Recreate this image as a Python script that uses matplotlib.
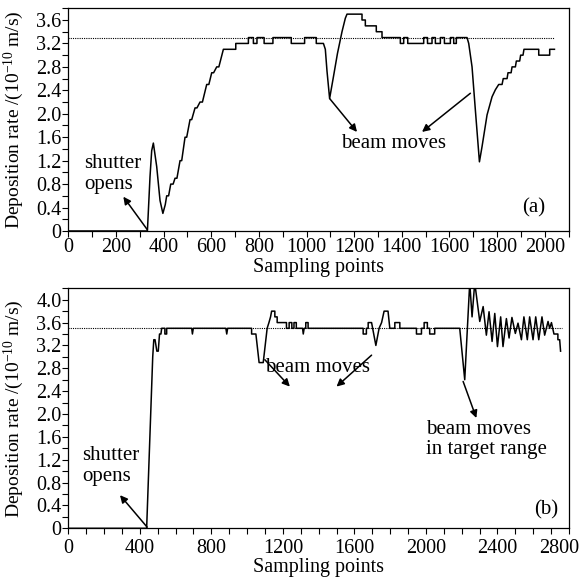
import numpy as np
import matplotlib.pyplot as plt
import matplotlib.transforms as mtransforms
from matplotlib.ticker import MultipleLocator, FuncFormatter

plt.rcParams['font.family'] = ['Liberation Serif', 'DejaVu Serif']
plt.rcParams['mathtext.fontset'] = 'custom'
plt.rcParams['mathtext.rm'] = 'Liberation Serif'
plt.rcParams['mathtext.it'] = 'Liberation Serif:italic'

# panel (a): deposition rate trace, vertices
top_x = [0, 332, 343, 350, 357, 371, 385, 397, 407, 413, 421, 430, 440, 448, 456,
         469, 476, 490, 497, 511, 518, 532, 540, 553, 563, 581, 590, 602, 610, 623,
         632, 651, 703, 703, 756, 756, 777, 777, 792, 792, 822, 822, 859, 859, 936,
         936, 992, 992, 1041, 1041, 1071, 1079, 1086, 1097, 1113, 1130, 1149, 1163,
         1170, 1233, 1233, 1247, 1247, 1293, 1293, 1317, 1317, 1394, 1394, 1408,
         1408, 1425, 1425, 1492, 1492, 1508, 1508, 1527, 1527, 1541, 1541, 1562,
         1562, 1579, 1579, 1604, 1604, 1618, 1618, 1629, 1629, 1674, 1681, 1695,
         1709, 1726, 1737, 1758, 1779, 1793, 1807, 1821, 1826, 1842, 1846, 1859,
         1863, 1877, 1881, 1895, 1899, 1909, 1913, 1975, 1975, 2021, 2021, 2041]
top_y = [0, 0, 0.93, 1.37, 1.50, 1.10, 0.52, 0.30, 0.45, 0.60, 0.60, 0.80, 0.80,
         0.90, 0.90, 1.20, 1.20, 1.60, 1.60, 1.90, 1.90, 2.10, 2.10, 2.20, 2.20,
         2.50, 2.50, 2.70, 2.70, 2.80, 2.80, 3.10, 3.10, 3.20, 3.20, 3.30, 3.30,
         3.20, 3.20, 3.30, 3.30, 3.20, 3.20, 3.30, 3.30, 3.20, 3.20, 3.30, 3.30,
         3.20, 3.20, 3.10, 2.73, 2.26, 2.63, 3.03, 3.40, 3.63, 3.70, 3.70, 3.60,
         3.60, 3.50, 3.50, 3.40, 3.40, 3.30, 3.30, 3.20, 3.20, 3.30, 3.30, 3.20,
         3.20, 3.30, 3.30, 3.20, 3.20, 3.30, 3.30, 3.20, 3.20, 3.30, 3.30, 3.20,
         3.20, 3.30, 3.30, 3.20, 3.20, 3.30, 3.30, 3.20, 2.80, 2.06, 1.18, 1.44,
         1.98, 2.29, 2.41, 2.50, 2.50, 2.60, 2.60, 2.70, 2.70, 2.80, 2.80, 2.90,
         2.90, 3.00, 3.00, 3.10, 3.10, 3.00, 3.00, 3.10, 3.10]
top_target = 3.3
top_target_end = 2040

# panel (b)
bot_x = [0, 438, 472, 478, 485, 495, 503, 510, 518, 522, 540, 540, 550, 550, 690,
         694, 699, 881, 886, 891, 1025, 1025, 1049, 1067, 1090, 1112, 1122, 1131,
         1137, 1155, 1155, 1168, 1168, 1220, 1220, 1235, 1235, 1250, 1250, 1262,
         1262, 1275, 1275, 1310, 1314, 1319, 1328, 1328, 1341, 1341, 1649, 1649,
         1667, 1667, 1677, 1677, 1696, 1720, 1738, 1752, 1766, 1788, 1798, 1826,
         1826, 1854, 1854, 1947, 1947, 1975, 1975, 1990, 1990, 2008, 2008, 2021,
         2021, 2049, 2049, 2189, 2217, 2245, 2258, 2273, 2301, 2320, 2338, 2353,
         2370, 2385, 2400, 2418, 2431, 2450, 2465, 2481, 2500, 2515, 2534, 2548,
         2567, 2580, 2599, 2614, 2631, 2649, 2664, 2683, 2692, 2702, 2716, 2738,
         2738, 2748, 2753]
bot_y = [0, 0, 3.0, 3.3, 3.3, 3.1, 3.1, 3.4, 3.4, 3.5, 3.5, 3.4, 3.4, 3.5, 3.5,
         3.4, 3.5, 3.5, 3.4, 3.5, 3.5, 3.4, 3.4, 2.9, 2.9, 3.5, 3.6, 3.7, 3.8,
         3.8, 3.7, 3.7, 3.6, 3.6, 3.5, 3.5, 3.6, 3.6, 3.5, 3.5, 3.6, 3.6, 3.5,
         3.5, 3.4, 3.5, 3.5, 3.6, 3.6, 3.5, 3.5, 3.4, 3.4, 3.5, 3.5, 3.6, 3.6,
         3.2, 3.5, 3.6, 3.8, 3.8, 3.5, 3.5, 3.6, 3.6, 3.5, 3.5, 3.4, 3.4, 3.5,
         3.5, 3.6, 3.6, 3.5, 3.5, 3.4, 3.4, 3.5, 3.5, 2.6, 4.3, 3.7, 4.3, 3.62,
         3.88, 3.38, 3.79, 3.27, 3.76, 3.18, 3.70, 3.18, 3.67, 3.33, 3.69, 3.41,
         3.59, 3.30, 3.70, 3.30, 3.70, 3.30, 3.70, 3.30, 3.70, 3.38, 3.62, 3.5,
         3.6, 3.4, 3.4, 3.3, 3.3, 3.1]
bot_target = 3.5
bot_target_end = 2760

FS = 14.5


def yfmt(v, pos):
    return '0' if abs(v) < 1e-9 else f'{v:.1f}'


def style_axes(ax, xmax, xmajor, ymax, xpad, labelpad):
    ax.set_xlim(0, xmax)
    ax.set_ylim(0, ymax)
    ax.xaxis.set_major_locator(MultipleLocator(xmajor))
    ax.xaxis.set_minor_locator(MultipleLocator(100))
    ax.yaxis.set_major_locator(MultipleLocator(0.4))
    ax.yaxis.set_minor_locator(MultipleLocator(0.2))
    ax.yaxis.set_major_formatter(FuncFormatter(yfmt))
    ax.tick_params(which='both', direction='out', length=4, width=0.8,
                   labelsize=FS)
    ax.tick_params(axis='y', pad=1)
    ax.tick_params(axis='x', pad=xpad)
    for s in ax.spines.values():
        s.set_linewidth(0.9)
    ax.set_xlabel('Sampling points', fontsize=FS, labelpad=labelpad)
    ax.set_ylabel('Deposition rate /(10$^{-10}$ m/s)', fontsize=14)
    ax.yaxis.set_label_coords(-0.085, 0.5)


def arrow(ax, tail, head):
    ax.annotate('', xy=head, xytext=tail,
                arrowprops=dict(arrowstyle='-|>', color='black', lw=1.1,
                                mutation_scale=11, shrinkA=0, shrinkB=0))


fig = plt.figure(figsize=(5.81, 5.83), dpi=100)
ax1 = fig.add_axes([0.1176, 0.6038, 0.8609, 0.382])
ax2 = fig.add_axes([0.1176, 0.0938, 0.8617, 0.4117])

# (a)
ax1.plot(top_x, top_y, color='black', lw=1.1)
ax1.plot([0, top_target_end], [top_target, top_target], color='black',
         lw=0.8, linestyle=(0, (1, 1)))
style_axes(ax1, 2100, 200, 3.8, 1, 1)
ax1.text(66, 0.97, 'shutter\nopens', fontsize=FS + 0.5, va='center',
         linespacing=1.1)
arrow(ax1, (332, 0.02), (231, 0.585))
ax1.text(1364, 1.50, 'beam moves', fontsize=FS + 0.5, ha='center', va='center')
arrow(ax1, (1097, 2.26), (1212, 1.69))
arrow(ax1, (1688, 2.35), (1485, 1.69))
ax1.text(1954, 0.39, '(a)', fontsize=FS + 0.5, ha='center', va='center')

# (b)
ax2.plot(bot_x, bot_y, color='black', lw=1.1)
ax2.plot([0, bot_target_end], [bot_target, bot_target], color='black',
         lw=0.8, linestyle=(0, (1, 1)))
style_axes(ax2, 2800, 400, 4.2, 4, 0)
ax2.text(77, 1.09, 'shutter\nopens', fontsize=FS + 0.5, va='center',
         linespacing=1.1)
arrow(ax2, (441, 0.02), (289, 0.58))
ax2.text(1396, 2.82, 'beam moves', fontsize=FS + 0.5, ha='center', va='center')
arrow(ax2, (1099, 2.95), (1239, 2.48))
arrow(ax2, (1696, 3.03), (1500, 2.48))
ax2.text(1999, 1.55, 'beam moves\nin target range', fontsize=FS + 0.5,
         va='center', linespacing=1.1)
arrow(ax2, (2208, 2.57), (2282, 1.93))
ax2.text(2674, 0.32, '(b)', fontsize=FS + 0.5, ha='center', va='center')

# keep the last bottom tick label inside the figure, as in the original
fig.canvas.draw()
last = ax2.xaxis.get_major_ticks()[-1]
for t in ax2.xaxis.get_major_ticks():
    if t.label1.get_text() == '2800':
        last = t
shift = mtransforms.ScaledTranslation(-10 / 100, 0, fig.dpi_scale_trans)
last.label1.set_transform(last.label1.get_transform() + shift)

fig.savefig('out.png', dpi=100)
